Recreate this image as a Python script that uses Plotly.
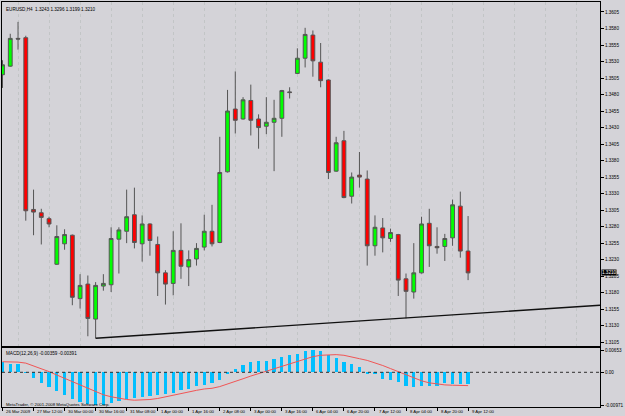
import plotly.graph_objects as go

# ---------------- data ----------------
bars = list(range(61))

opens = [1.3510, 1.3523, 1.3565, 1.3566, 1.3306, 1.3301, 1.3292, 1.3223, 1.3254, 1.3267,
         1.3171, 1.3193, 1.3140, 1.3190, 1.3192, 1.3261, 1.3273, 1.3298, 1.3254, 1.3284,
         1.3253, 1.3210, 1.3194, 1.3244, 1.3219, 1.3231, 1.3249, 1.3273, 1.3256, 1.3363,
         1.3458, 1.3443, 1.3471, 1.3443, 1.3432, 1.3438, 1.3444, 1.3484, 1.3512, 1.3535,
         1.3570, 1.3529, 1.3502, 1.3364, 1.3410, 1.3326, 1.3358, 1.3352, 1.3251, 1.3278,
         1.3262, 1.3268, 1.3201, 1.3181, 1.3210, 1.3285, 1.3250, 1.3250, 1.3263, 1.3311,
         1.3243]
highs = [1.3532, 1.3572, 1.3590, 1.3569, 1.3336, 1.3307, 1.3295, 1.3282, 1.3276, 1.3268,
         1.3208, 1.3206, 1.3196, 1.3208, 1.3279, 1.3279, 1.3336, 1.3339, 1.3297, 1.3285,
         1.3265, 1.3214, 1.3273, 1.3285, 1.3244, 1.3255, 1.3298, 1.3313, 1.3416, 1.3487,
         1.3515, 1.3476, 1.3495, 1.3450, 1.3476, 1.3472, 1.3487, 1.3491, 1.3550, 1.3581,
         1.3577, 1.3558, 1.3503, 1.3416, 1.3425, 1.3362, 1.3393, 1.3365, 1.3297, 1.3293,
         1.3277, 1.3269, 1.3209, 1.3255, 1.3295, 1.3307, 1.3279, 1.3269, 1.3321, 1.3333,
         1.3296]
lows = [1.3490, 1.3522, 1.3548, 1.3289, 1.3267, 1.3253, 1.3279, 1.3222, 1.3245, 1.3161,
        1.3156, 1.3114, 1.3111, 1.3183, 1.3181, 1.3209, 1.3255, 1.3247, 1.3227, 1.3236,
        1.3175, 1.3162, 1.3176, 1.3201, 1.3190, 1.3221, 1.3244, 1.3250, 1.3255, 1.3362,
        1.3421, 1.3442, 1.3418, 1.3398, 1.3420, 1.3364, 1.3416, 1.3474, 1.3511, 1.3521,
        1.3507, 1.3491, 1.3352, 1.3363, 1.3323, 1.3315, 1.3339, 1.3221, 1.3236, 1.3241,
        1.3257, 1.3175, 1.3141, 1.3171, 1.3209, 1.3219, 1.3239, 1.3228, 1.3251, 1.3233,
        1.3199]
closes = [1.3525, 1.3565, 1.3564, 1.3304, 1.3302, 1.3294, 1.3284, 1.3265, 1.3268, 1.3173,
          1.3191, 1.3141, 1.3191, 1.3194, 1.3262, 1.3275, 1.3295, 1.3256, 1.3284, 1.3259,
          1.3210, 1.3193, 1.3244, 1.3220, 1.3230, 1.3247, 1.3273, 1.3254, 1.3362, 1.3455,
          1.3441, 1.3472, 1.3441, 1.3430, 1.3438, 1.3444, 1.3486, 1.3483, 1.3535, 1.3571,
          1.3531, 1.3501, 1.3362, 1.3407, 1.3324, 1.3355, 1.3355, 1.3251, 1.3279, 1.3263,
          1.3271, 1.3199, 1.3182, 1.3210, 1.3284, 1.3251, 1.3248, 1.3262, 1.3313, 1.3243,
          1.3210]

macd_main = [0.0031, 0.0024, 0.0024, -0.0002, -0.0016, -0.0031, -0.0044, -0.0056, -0.0068, -0.0080,
             -0.0088, -0.0094, -0.00971, -0.0096, -0.0090, -0.0085, -0.0080, -0.0077, -0.0073, -0.0069,
             -0.0066, -0.0064, -0.0060, -0.0052, -0.0049, -0.0042, -0.0038, -0.0033, -0.0024, -0.0006,
             0.0009, 0.0021, 0.0029, 0.0034, 0.0034, 0.0039, 0.0044, 0.0049, 0.0054, 0.0063,
             0.00653, 0.0063, 0.0051, 0.0042, 0.0031, 0.0024, 0.0014, -0.0003, -0.0006, -0.0019,
             -0.0023, -0.0029, -0.0041, -0.0044, -0.0041, -0.0041, -0.0041, -0.0033, -0.0034, -0.0036,
             -0.00359]
macd_signal = [0.0031, 0.0031, 0.0030, 0.0027, 0.0019, 0.0010, 0.0002, -0.0008, -0.0018, -0.0028,
               -0.0038, -0.0048, -0.0058, -0.0066, -0.0072, -0.0077, -0.0080, -0.0082, -0.0082, -0.0080,
               -0.0077, -0.0072, -0.0066, -0.0061, -0.0057, -0.0053, -0.0049, -0.0047, -0.0042, -0.0035,
               -0.0027, -0.0019, -0.0011, -0.0004, 0.0003, 0.0011, 0.0019, 0.0026, 0.0033, 0.0040,
               0.0046, 0.0050, 0.0052, 0.0052, 0.0050, 0.0046, 0.0040, 0.0035, 0.0028, 0.0020,
               0.0011, 0.0002, -0.0008, -0.0017, -0.0025, -0.0031, -0.0035, -0.0037, -0.0038, -0.0039,
               -0.00391]

trend_x = [12, 77]
trend_y = [1.3111, 1.31609]

label_bars = [0, 4, 8, 12, 16, 20, 24, 28, 32, 36, 40, 44, 48, 52, 56, 60]
time_labels = ["26 Mar 2009", "27 Mar 12:00", "30 Mar 00:00", "30 Mar 16:00", "31 Mar 08:00",
               "1 Apr 00:00", "1 Apr 16:00", "2 Apr 08:00", "3 Apr 00:00", "3 Apr 16:00",
               "6 Apr 04:00", "6 Apr 20:00", "7 Apr 12:00", "8 Apr 04:00", "8 Apr 20:00",
               "9 Apr 12:00"]

price_ticks = [round(1.3105 + 0.0025 * k, 4) for k in range(21)]
price_grid = [round(1.3130 + 0.0050 * k, 4) for k in range(10)]
macd_ticks = [0.00653, 0.0, -0.00971]
macd_tick_text = ["0.00653", "0.00", "-0.00971"]

title_text = "EURUSD,H4  1.3243 1.3296 1.3199 1.3210"
macd_text = "MACD(12,26,9) -0.00359 -0.00391"
copyright_text = "MetaTrader, \u00a9 2001-2008 MetaQuotes Software Corp."
last_price = 1.3210

# ---------------- style ----------------
BG = "#D4D3D8"
GRID = "#C2C5C6"
FONT = "Liberation Sans"
FS = 4.6
FSX = 4.3

fig = go.Figure()

fig.add_trace(go.Scatter(x=trend_x, y=trend_y, mode="lines",
                         line=dict(color="#101010", width=1.4),
                         xaxis="x", yaxis="y", hoverinfo="skip"))

fig.add_trace(go.Candlestick(
    x=bars, open=opens, high=highs, low=lows, close=closes,
    increasing=dict(fillcolor="#00FF00", line=dict(color="#555555", width=1)),
    decreasing=dict(fillcolor="#FF0000", line=dict(color="#555555", width=1)),
    whiskerwidth=0, xaxis="x", yaxis="y"))

fig.add_trace(go.Bar(x=bars, y=macd_main, width=0.42, marker=dict(color="#00BFFF", line=dict(width=0)),
                     xaxis="x2", yaxis="y2"))
fig.add_trace(go.Scatter(x=bars, y=macd_signal, mode="lines",
                         line=dict(color="#F05555", width=1), xaxis="x2", yaxis="y2"))

xr = [-0.064, 77.0]
fig.update_layout(
    width=625, height=416,
    margin=dict(l=1, r=19, t=1, b=9),
    paper_bgcolor=BG, plot_bgcolor=BG,
    showlegend=False,
    font=dict(family=FONT, size=FS, color="#000000"),
    xaxis=dict(domain=[0, 1], anchor="y", range=xr, rangeslider=dict(visible=False),
               showticklabels=False, ticks="", tick0=2, dtick=4,
               showgrid=True, gridcolor=GRID, griddash="dot", gridwidth=1,
               showline=True, mirror=True, linecolor="#000000", linewidth=1, zeroline=False),
    xaxis2=dict(domain=[0, 1], anchor="y2", range=xr, matches="x",
                tickmode="array", tickvals=label_bars, ticks="outside", ticklen=3,
                tickcolor="#000000", showticklabels=False,
                showgrid=False, showline=True, mirror=True, linecolor="#000000",
                linewidth=1, zeroline=False),
    yaxis=dict(domain=[0.1502, 1], anchor="x", range=[1.30990, 1.36201], side="right",
               tickmode="array", tickvals=price_ticks, tickformat=".4f",
               ticks="outside", ticklen=3, tickcolor="#000000",
               tickfont=dict(size=FS, family=FONT),
               showgrid=False, showline=True, mirror=True, linecolor="#000000",
               linewidth=1, zeroline=False),
    yaxis3=dict(overlaying="y", anchor="x", range=[1.30990, 1.36201], side="right",
                tickmode="array", tickvals=price_grid, showticklabels=False, ticks="",
                showgrid=True, gridcolor=GRID, griddash="dot", gridwidth=1,
                zeroline=False, showline=False),
    yaxis2=dict(domain=[0, 0.1453], anchor="x2", range=[-0.0102, 0.0071], side="right",
                tickmode="array", tickvals=macd_ticks, ticktext=macd_tick_text,
                ticks="outside", ticklen=3, tickcolor="#000000",
                tickfont=dict(size=FS, family=FONT),
                showgrid=False, showline=True, mirror=True, linecolor="#000000",
                linewidth=1, zeroline=False),
    bargap=0,
)

# zero line of MACD (dotted)
fig.add_shape(type="line", xref="x2 domain", yref="y2", x0=0, x1=1, y0=0, y1=0,
              line=dict(color="#303030", width=1, dash="dot"))

ann = []
ann.append(dict(text=title_text, xref="paper", yref="paper", x=0.004, y=1 - 3 / 406,
                xanchor="left", yanchor="top", showarrow=False,
                font=dict(size=FS, family=FONT, color="#000000")))
ann.append(dict(text=macd_text, xref="paper", yref="paper", x=0.004, y=(407 - 353) / 406,
                xanchor="left", yanchor="middle", showarrow=False,
                font=dict(size=FS, family=FONT, color="#000000")))
ann.append(dict(text=copyright_text, xref="paper", yref="paper", x=0.004, y=(407 - 404) / 406,
                xanchor="left", yanchor="middle", showarrow=False,
                font=dict(size=FSX, family=FONT, color="#000000")))
for b, t in zip(label_bars, time_labels):
    ann.append(dict(text=t, xref="x2", yref="paper", x=b + 0.2, y=(407 - 411.5) / 406,
                    xanchor="left", yanchor="middle", showarrow=False,
                    font=dict(size=FSX, family=FONT, color="#000000")))
ann.append(dict(text="%.4f" % last_price, xref="paper", yref="y", x=1.0, y=last_price,
                xanchor="left", yanchor="middle", showarrow=False, xshift=1,
                bgcolor="#000000", borderpad=0,
                font=dict(size=FS, family=FONT, color="#FFFFFF")))
fig.update_layout(annotations=ann)

fig.write_html("out.html")
